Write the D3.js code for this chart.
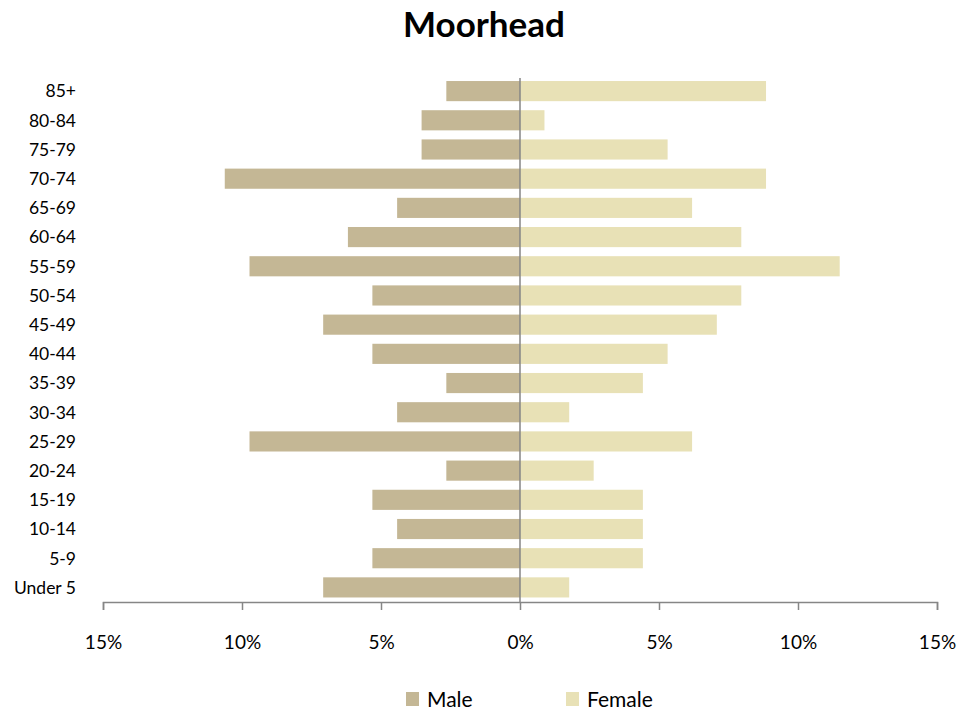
<!DOCTYPE html>
<html><head><meta charset="utf-8">
<script src="https://cdn.jsdelivr.net/npm/d3@7"></script>
<style>body{margin:0;background:#fff}svg{display:block}text{font-family:Lato,"Open Sans",sans-serif}</style>
</head><body><svg id="c" width="979" height="713"></svg>
<script>
const categories = ["Under 5","5-9","10-14","15-19","20-24","25-29","30-34","35-39","40-44","45-49","50-54","55-59","60-64","65-69","70-74","75-79","80-84","85+"];
const male =   [7.08,5.31,4.42,5.31,2.65,9.73,4.42,2.65,5.31,7.08,5.31,9.73,6.19,4.42,10.62,3.54,3.54,2.65];
const female = [1.77,4.42,4.42,4.42,2.65,6.19,1.77,4.42,5.31,7.08,7.96,11.50,7.96,6.19,8.85,5.31,0.88,8.85];
const tickValues = [-15,-10,-5,0,5,10,15];
const seriesNames = ["Male","Female"];
const colors = ["#C4B795","#E8E1B6"];

const svg = d3.select("#c");
const x = d3.scaleLinear().domain([-15,15]).range([103,937]);
const y = d3.scaleBand().domain(categories.slice().reverse()).range([76.5,602]).paddingInner(0.31).paddingOuter(0.155);

svg.append("text").attr("x",484).attr("y",37).attr("text-anchor","middle")
  .attr("font-size",35).attr("font-weight","bold").attr("fill","#000").text("Moorhead");

svg.selectAll("rect.m").data(categories).join("rect").attr("class","m")
  .attr("x",(d,i)=>x(-male[i])).attr("width",(d,i)=>x(0)-x(-male[i]))
  .attr("y",d=>y(d)).attr("height",y.bandwidth()).attr("fill",colors[0]);
svg.selectAll("rect.f").data(categories).join("rect").attr("class","f")
  .attr("x",x(0)).attr("width",(d,i)=>x(female[i])-x(0))
  .attr("y",d=>y(d)).attr("height",y.bandwidth()).attr("fill",colors[1]);

// category labels
svg.selectAll("text.cat").data(categories).join("text").attr("class","cat")
  .attr("x",76).attr("y",d=>y(d)+y.bandwidth()/2).attr("dy","0.36em")
  .attr("text-anchor","end").attr("font-size",17.5).attr("fill","#000").text(d=>d);

// zero line
svg.append("line").attr("x1",x(0)).attr("x2",x(0)).attr("y1",78).attr("y2",602)
  .attr("stroke","#868686").attr("stroke-width",1.5);

// x axis
const ax = svg.append("g").attr("transform","translate(0,602)")
  .call(d3.axisBottom(x).tickValues(tickValues).tickSize(8).tickFormat(d=>Math.abs(d)+"%"));
ax.select(".domain").attr("stroke","#868686").attr("stroke-width",1.5);
ax.selectAll(".tick line").attr("stroke","#868686").attr("stroke-width",1.5);
ax.selectAll(".tick text").attr("font-size",19).attr("fill","#000").attr("y",40).attr("dy","0.35em")
  .style("font-family","Lato,'Open Sans',sans-serif");

// legend
const lx = [406,566];
const lg = svg.selectAll("g.lg").data(seriesNames).join("g").attr("class","lg")
  .attr("transform",(d,i)=>`translate(${lx[i]},692)`);
lg.append("rect").attr("width",13).attr("height",14).attr("fill",(d,i)=>colors[i]);
lg.append("text").attr("x",21).attr("y",15).attr("font-size",21).attr("fill","#000").text(d=>d);
</script></body></html>
